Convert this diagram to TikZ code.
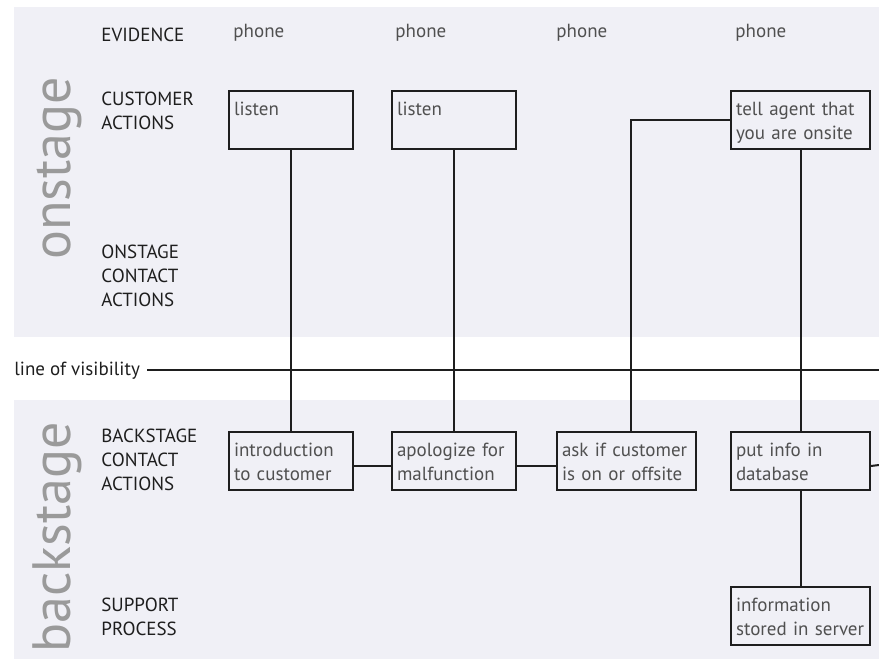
\documentclass[tikz,border=0pt]{standalone}
\usepackage{fontspec}
\setmainfont{PT Sans}
\usetikzlibrary{positioning, calc}
\definecolor{StageBg}{HTML}{F0F0F6}
\definecolor{StageGray}{HTML}{9A9A9A}
\definecolor{BoxText}{HTML}{505050}
\definecolor{InkDark}{HTML}{1E1E1E}
\tikzset{
  lanelabel/.style={anchor=base west, inner sep=0pt, text width=60pt, align=left,
    font=\fontsize{9.5}{12}\selectfont, text=InkDark},
  evidence/.style={anchor=base west, inner sep=0pt, font=\fontsize{9.5}{12}\selectfont, text=BoxText},
  actbox/.style={draw=InkDark, line width=1pt, anchor=north west, align=left,
    inner xsep=2.5pt, inner ysep=0pt, text width=57pt, text height=12.25pt, text depth=16.75pt,
    font=\fontsize{9.5}{12}\selectfont, text=BoxText},
  widebox/.style={actbox, text width=64.5pt},
  stagename/.style={rotate=90, inner sep=0pt, font=\fontsize{27}{27}\selectfont, text=StageGray},
  link/.style={draw=InkDark, line width=1pt}
}
\begin{document}
\begin{tikzpicture}[x=0.5pt, y=-0.5pt]
  \useasboundingbox (0,0) rectangle (879,659);
  % Stage bands
  \fill[StageBg] (14,7) rectangle (879,337);
  \fill[StageBg] (14,400) rectangle (879,659);
  \node[stagename, anchor=base west] (onstage) at (70,260) {onstage};
  \node[stagename, anchor=base east] (backstage) at (70,422) {backstage};
  % Lane labels
  \node[lanelabel] (evid) at (101,41) {EVIDENCE};
  \node[lanelabel] (cust) at (101,105) {CUSTOMER\\ACTIONS};
  \node[lanelabel] (onct) at (101,258) {ONSTAGE\\CONTACT\\ACTIONS};
  \node[lanelabel] (bkct) at (101,442) {BACKSTAGE\\CONTACT\\ACTIONS};
  \node[lanelabel] (supp) at (101,611) {SUPPORT\\PROCESS};
  % Evidence
  \foreach \px [count=\i] in {233,395,556,735}
    \node[evidence] (phone\i) at (\px,37) {phone};
  % Line of visibility
  \node[evidence, text=InkDark, inner xsep=3.5pt] (vis) at (7,375) {line of visibility};
  \coordinate (visend) at (879,368);
  % Action boxes
  \node[actbox] (listenA) at (228,90) {listen};
  \node[actbox] (listenB) at (391,90) {listen};
  \node[widebox] (tell) at (730,90) {tell agent that\\you are onsite};
  \node[actbox] (intro) at (228,431) {introduction\\to customer};
  \node[actbox] (apol) at (391,431) {apologize for\\malfunction};
  \node[widebox] (ask) at (556,431) {ask if customer\\is on or offsite};
  \node[widebox] (putinfo) at (730,431) {put info in\\database};
  \node[widebox] (stored) at (730,586) {information\\stored in server};
  \coordinate (dbend) at (879,465);
  % Connectors
  \draw[link] (vis.east) -- (vis.east -| visend);
  \draw[link] (listenA) -- (intro);
  \draw[link] (listenB) -- (apol);
  \draw[link] (tell) -- (putinfo);
  \draw[link] (putinfo) -- (stored);
  \draw[link] (tell.west) -| ([xshift=2pt]ask.north);
  \draw[link] ([yshift=-2.5pt]intro.east) -- ([yshift=-2.5pt]apol.west);
  \draw[link] ([yshift=-2.5pt]apol.east) -- ([yshift=-2.5pt]ask.west);
  \draw[link] ([yshift=-2.5pt]putinfo.east) -- (dbend);
\end{tikzpicture}
\end{document}
